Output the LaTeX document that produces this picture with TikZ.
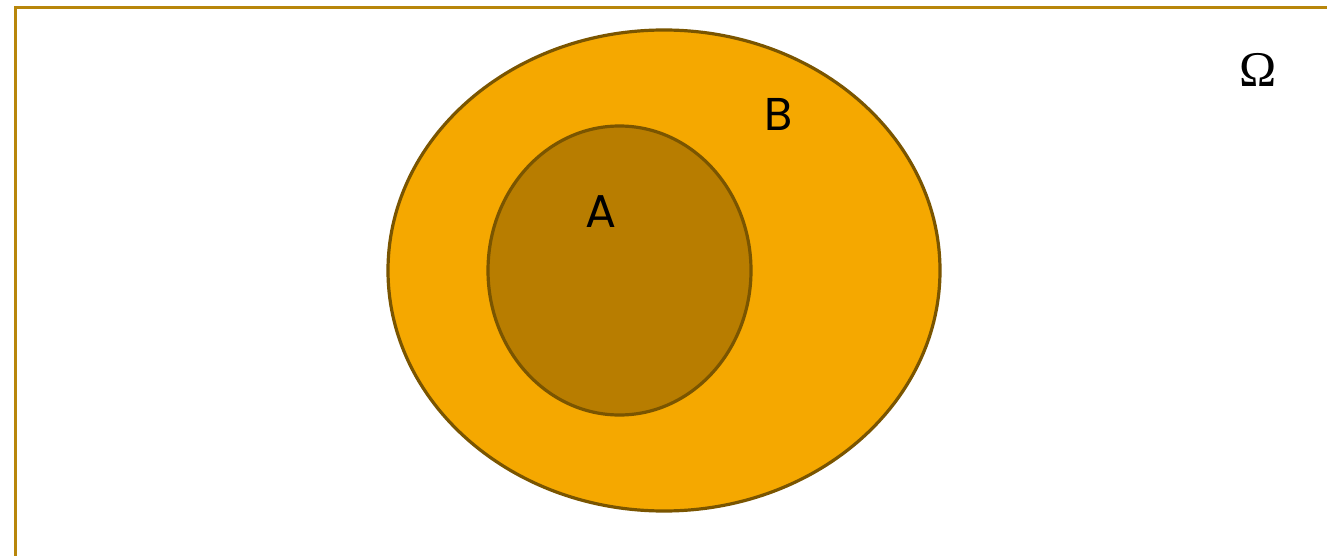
\documentclass[tikz,border=0pt]{standalone}
\usepackage{fontspec}
\setmainfont{Liberation Serif}
\newfontfamily\labelfont{Poppins}
\usepackage{tikz}
\definecolor{framegold}{HTML}{B8860B}
\definecolor{setedge}{HTML}{7A5500}
\definecolor{setbfill}{HTML}{F5A800}
\definecolor{setafill}{HTML}{B87D00}

\begin{document}
\begin{tikzpicture}[x=1pt,y=-1pt,every node/.style={inner sep=0pt}]
  \useasboundingbox (0,0) rectangle (1327,556);
  \draw[framegold,line width=3pt] (15,570) -- (15,8) -- (1340,8);
  \draw[setedge,fill=setbfill,line width=3.2pt] (664,270.5) ellipse [x radius=276, y radius=240.5];
  \draw[setedge,fill=setafill,line width=3.2pt] (619.5,270.5) ellipse [x radius=131.5, y radius=144.5];
  \node (labA) at (601,212) {\labelfont\fontsize{46}{46}\selectfont A};
  \node (labB) at (779,114) {\labelfont\fontsize{46}{46}\selectfont B};
  \node (omega) at (1258,70) {\fontsize{50}{50}\selectfont Ω};
\end{tikzpicture}
\end{document}
